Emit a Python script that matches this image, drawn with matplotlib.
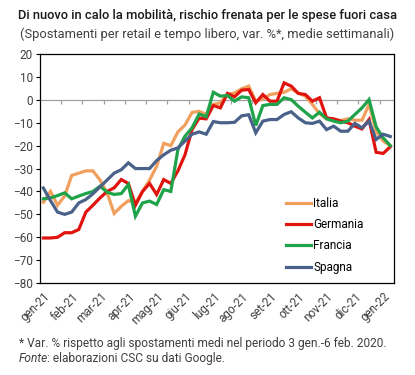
import matplotlib
matplotlib.use("Agg")
import matplotlib.pyplot as plt

plt.rcParams['font.family'] = ['Roboto', 'DejaVu Sans']

# weekly values, var. % (50 weeks)
italia = [-44.7, -40, -46, -42, -33, -32, -31, -31, -35, -40.6,
          -49.6, -46.5, -44, -45, -40, -35, -29, -19, -20, -14,
          -11, -5.5, -5, -6.4, -2, -1.3, 2.3, 3, 4.8, 6,
          -0.6, 0.4, 2.3, 2.8, 3.3, 4.8, 3, 1.6, -2, -6,
          -8.3, -8.6, -9, -8.3, -8.9, -8.9, -2, -13.7, -18, -20]
germania = [-60.3, -60.3, -60, -58, -58, -56.6, -49, -46, -42.8, -40,
            -38.4, -34.8, -36.5, -46, -40, -36.5, -41.3, -34.8, -36.5, -31,
            -24, -13, -8, -8.3, -2.5, -3.5, 2.8, 1.3, 4.2, 4.5,
            -1.3, 2.3, -0.6, -0.6, 7.4, 6, 2.8, 2.3, -0.6, 0.9,
            -7.9, -8.3, -9.3, -10, -11.5, -12.7, -8.6, -22.9, -23.4, -20.5]
francia = [-43.2, -42.8, -41.8, -40.6, -43.2, -42, -40.9, -40, -37.7, -40.3,
           -41.3, -40.9, -37, -50.8, -45, -44.2, -45.7, -39.2, -40, -21.7,
           -15.9, -12.2, -6.2, -7.4, 3.3, 1.6, 1.9, -0.6, 1.3, 0.9,
           -11.2, -2.5, -2, -2, 0.9, 0.1, -2.8, -5.4, -7.9, -5.4,
           -8.3, -9.3, -10, -9.3, -6.4, -3.5, 0.1, -11.8, -16.6, -20]
spagna = [-38.5, -44, -49, -50, -49, -45, -43.5, -41, -38, -35,
          -32, -30.5, -27.5, -30, -30, -30, -26.5, -24, -22, -21,
          -18, -15, -14, -15, -9.5, -10, -10, -9.8, -7, -6.5,
          -14.4, -9.3, -8.6, -8.6, -6.4, -5.2, -7.9, -10, -10.3, -9.3,
          -13, -11.5, -13.7, -13.7, -10.3, -12.2, -9.3, -17.3, -15, -16]

month_labels = ['gen-21', 'feb-21', 'mar-21', 'apr-21', 'mag-21', 'giu-21', 'lug-21',
                'ago-21', 'set-21', 'ott-21', 'nov-21', 'dic-21', 'gen-22']

series = [('Italia', italia, '#F0A05C'),
          ('Germania', germania, '#E0140F'),
          ('Francia', francia, '#1FA34A'),
          ('Spagna', spagna, '#4A6289')]

fig = plt.figure(figsize=(4.15, 3.75), dpi=100)
ax = fig.add_axes([0.096, 0.245, 0.853, 0.611])

x = list(range(len(italia)))
for name, vals, col in series:
    ax.plot(x, vals, color=col, lw=2.3, label=name, solid_joinstyle='miter')

# zero line with its tick marks
ax.axhline(0, color='#A0A0A0', lw=0.9, zorder=0)
ax.vlines([-0.5 + 3 * k for k in range(1, 17)], -1.8, 0, color='#A0A0A0', lw=0.9, zorder=0)

ax.set_xlim(-0.5, len(italia) - 0.5)
ax.set_ylim(-80, 20)
ax.set_yticks(range(-80, 21, 10))
ax.tick_params(axis='y', labelsize=8.5, labelcolor='#404040', length=3, width=0.8, pad=2)
ax.set_xticks(range(0, 49, 4))
ax.set_xticklabels(month_labels, rotation=45, ha='right', va='top', rotation_mode='anchor')
ax.tick_params(axis='x', labelsize=8.5, labelcolor='#404040', length=0, pad=5)
for s in ax.spines.values():
    s.set_color('black')
    s.set_linewidth(0.9)

ax.legend(loc='lower left', bbox_to_anchor=(0.67, 0.0), frameon=False, fontsize=8.5,
          handlelength=2.1, handletextpad=0.15, labelspacing=0.7, borderpad=0.3)

fig.text(0.5, 0.958, 'Di nuovo in calo la mobilità, rischio frenata per le spese fuori casa',
         ha='center', va='center', fontsize=9.3, fontweight='medium', color='#1a1a1a')
fig.text(0.5, 0.908, '(Spostamenti per retail e tempo libero, var. %*, medie settimanali)',
         ha='center', va='center', fontsize=9.3, color='#404040')
fig.text(0.045, 0.085, '* Var. % rispetto agli spostamenti medi nel periodo 3 gen.-6 feb. 2020.',
         ha='left', va='center', fontsize=8.6, color='#404040')
fig.text(0.045, 0.045, 'Fonte', ha='left', va='center', fontsize=8.6, color='#404040', style='italic')
fig.text(0.045 + 0.069, 0.045, ': elaborazioni CSC su dati Google.', ha='left', va='center',
         fontsize=8.6, color='#404040')

fig.savefig('out.png', dpi=100)
